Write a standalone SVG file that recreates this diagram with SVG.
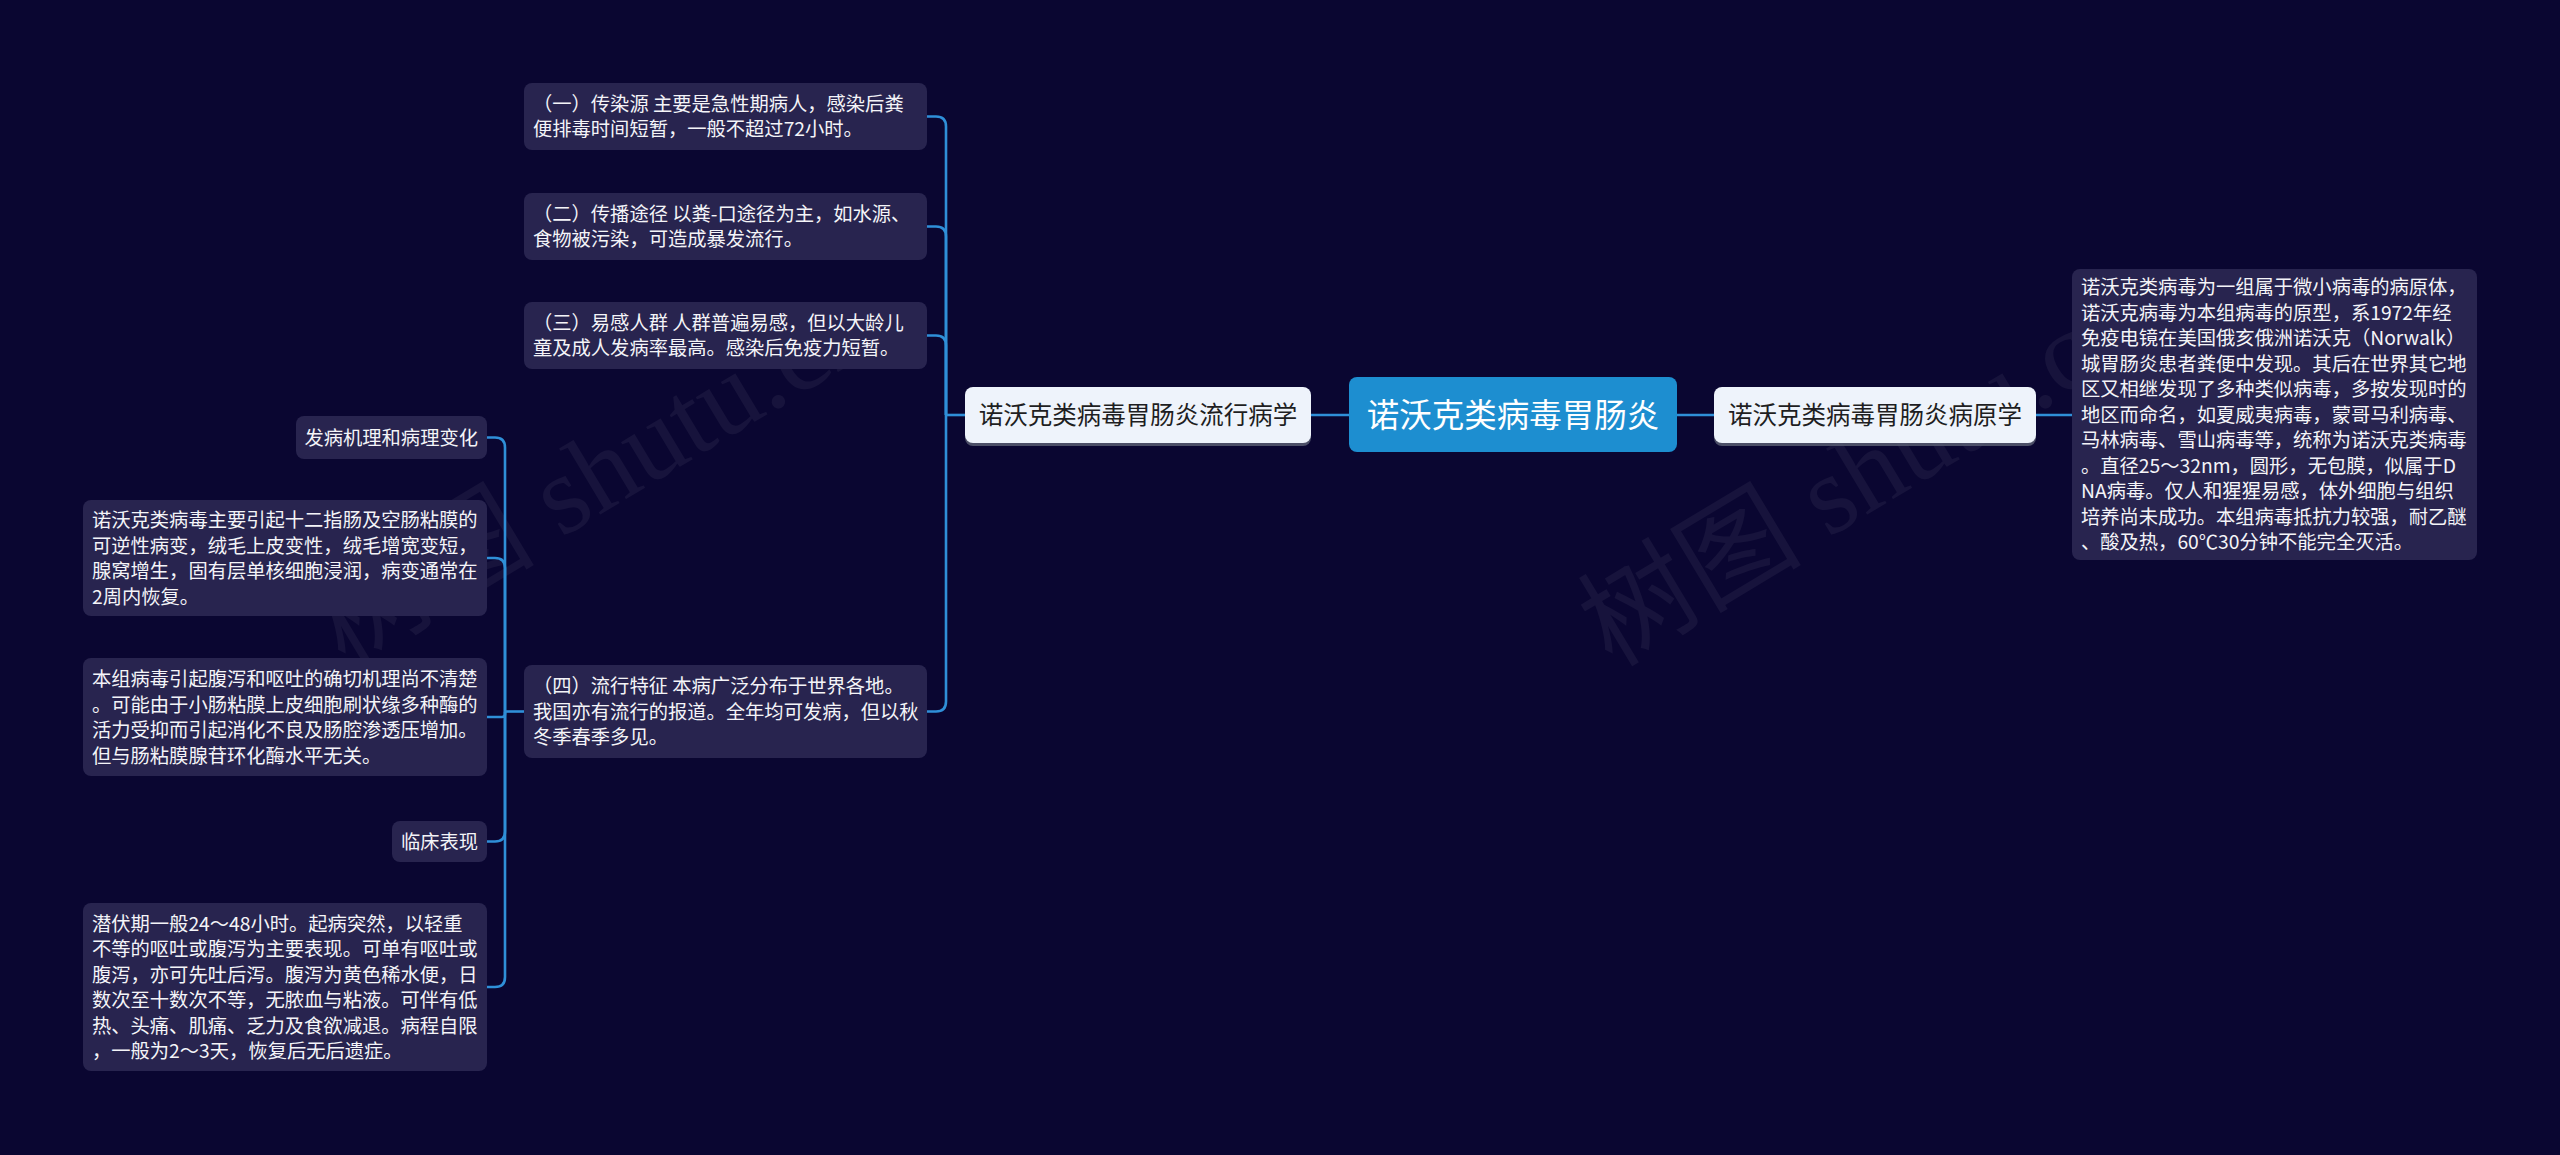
<svg xmlns="http://www.w3.org/2000/svg" width="2560" height="1155" viewBox="0 0 2560 1155">
<defs>
<style>
.leaf{fill:#28244f;}
.main{fill:#eef3fb;}
.shadow{fill:#5d6275;opacity:0.8;}
.center{fill:#1d8ed0;}
.t{font-family:"Noto Sans CJK SC","Noto Sans",sans-serif;font-size:19.3px;fill:#f4f4f8;}
.tm{font-family:"Noto Sans CJK SC","Noto Sans",sans-serif;font-size:24.5px;fill:#1e1e22;text-anchor:middle;}
.tc{font-family:"Noto Sans CJK SC","Noto Sans",sans-serif;font-size:32.5px;fill:#ffffff;text-anchor:middle;}
.conn path{fill:none;stroke:#2f8fd8;stroke-width:2.6;}
.wm{font-family:"Liberation Serif","Noto Sans CJK SC",serif;font-size:112px;fill:#ffffff;opacity:0.05;}
</style>
</defs>
<rect x="0" y="0" width="2560" height="1155" fill="#0a0631"/>
<g id="watermark">
<text class="wm" transform="translate(345,668) rotate(-31)">树图 shutu.cn</text>
<text class="wm" transform="translate(1612,668) rotate(-31)">树图 shutu.cn</text>
</g>
<g id="connectors" class="conn">
<path d="M1311,415 H1349"/>
<path d="M1677,415 H1714"/>
<path d="M2036,415 H2072"/>
<path d="M965,415 H946"/>
<path d="M946,415 V126.5 Q946,116.5 936,116.5 H927"/>
<path d="M946,415 V236.5 Q946,226.5 936,226.5 H927"/>
<path d="M946,415 V345.5 Q946,335.5 936,335.5 H927"/>
<path d="M946,415 V701.5 Q946,711.5 936,711.5 H927"/>
<path d="M524,711.5 H505"/>
<path d="M505,711.5 V447.5 Q505,437.5 495,437.5 H487"/>
<path d="M505,711.5 V568 Q505,558 495,558 H487"/>
<path d="M505,711.5 V714 Q505,717 502,717 H487"/>
<path d="M505,711.5 V831.5 Q505,841.5 495,841.5 H487"/>
<path d="M505,711.5 V977 Q505,987 495,987 H487"/>
</g>
<g id="node-center">
<rect class="center" x="1349" y="377" width="328" height="75" rx="8"/>
<text class="tc" x="1513" y="427">诺沃克类病毒胃肠炎</text>
</g>
<g id="node-epidemiology">
<rect class="shadow" x="965" y="390" width="346" height="56" rx="8"/>
<rect class="main" x="965" y="387" width="346" height="56" rx="8"/>
<text class="tm" x="1138" y="424">诺沃克类病毒胃肠炎流行病学</text>
</g>
<g id="node-etiology">
<rect class="shadow" x="1714" y="390" width="322" height="56" rx="8"/>
<rect class="main" x="1714" y="387" width="322" height="56" rx="8"/>
<text class="tm" x="1875" y="424">诺沃克类病毒胃肠炎病原学</text>
</g>
<g id="node-etiology-text">
<rect class="leaf" x="2072" y="269" width="405" height="291" rx="8"/>
<text class="t" x="2081" y="294">诺沃克类病毒为一组属于微小病毒的病原体，</text>
<text class="t" x="2081" y="319.5">诺沃克病毒为本组病毒的原型，系1972年经</text>
<text class="t" x="2081" y="345">免疫电镜在美国俄亥俄洲诺沃克（Norwalk）</text>
<text class="t" x="2081" y="370.5">城胃肠炎患者粪便中发现。其后在世界其它地</text>
<text class="t" x="2081" y="396">区又相继发现了多种类似病毒，多按发现时的</text>
<text class="t" x="2081" y="421.5">地区而命名，如夏威夷病毒，蒙哥马利病毒、</text>
<text class="t" x="2081" y="447">马林病毒、雪山病毒等，统称为诺沃克类病毒</text>
<text class="t" x="2081" y="472.5">。直径25～32nm，圆形，无包膜，似属于D</text>
<text class="t" x="2081" y="498">NA病毒。仅人和猩猩易感，体外细胞与组织</text>
<text class="t" x="2081" y="523.5">培养尚未成功。本组病毒抵抗力较强，耐乙醚</text>
<text class="t" x="2081" y="549">、酸及热，60℃30分钟不能完全灭活。</text>
</g>
<g id="node-source">
<rect class="leaf" x="524" y="83" width="403" height="67" rx="8"/>
<text class="t" x="533" y="110.5">（一）传染源 主要是急性期病人，感染后粪</text>
<text class="t" x="533" y="136">便排毒时间短暂，一般不超过72小时。</text>
</g>
<g id="node-route">
<rect class="leaf" x="524" y="193" width="403" height="67" rx="8"/>
<text class="t" x="533" y="220.5">（二）传播途径 以粪-口途径为主，如水源、</text>
<text class="t" x="533" y="246">食物被污染，可造成暴发流行。</text>
</g>
<g id="node-susceptible">
<rect class="leaf" x="524" y="302" width="403" height="67" rx="8"/>
<text class="t" x="533" y="329.5">（三）易感人群 人群普遍易感，但以大龄儿</text>
<text class="t" x="533" y="355">童及成人发病率最高。感染后免疫力短暂。</text>
</g>
<g id="node-features">
<rect class="leaf" x="524" y="665" width="403" height="93" rx="8"/>
<text class="t" x="533" y="693">（四）流行特征 本病广泛分布于世界各地。</text>
<text class="t" x="533" y="718.5">我国亦有流行的报道。全年均可发病，但以秋</text>
<text class="t" x="533" y="744">冬季春季多见。</text>
</g>
<g id="node-pathogenesis">
<rect class="leaf" x="296" y="416" width="191" height="43" rx="8"/>
<text class="t" x="478" y="444.5" text-anchor="end">发病机理和病理变化</text>
</g>
<g id="node-pathology-text">
<rect class="leaf" x="83" y="500" width="404" height="116" rx="8"/>
<text class="t" x="92" y="527">诺沃克类病毒主要引起十二指肠及空肠粘膜的</text>
<text class="t" x="92" y="552.5">可逆性病变，绒毛上皮变性，绒毛增宽变短，</text>
<text class="t" x="92" y="578">腺窝增生，固有层单核细胞浸润，病变通常在</text>
<text class="t" x="92" y="603.5">2周内恢复。</text>
</g>
<g id="node-mechanism-text">
<rect class="leaf" x="83" y="658" width="404" height="118" rx="8"/>
<text class="t" x="92" y="686">本组病毒引起腹泻和呕吐的确切机理尚不清楚</text>
<text class="t" x="92" y="711.5">。可能由于小肠粘膜上皮细胞刷状缘多种酶的</text>
<text class="t" x="92" y="737">活力受抑而引起消化不良及肠腔渗透压增加。</text>
<text class="t" x="92" y="762.5">但与肠粘膜腺苷环化酶水平无关。</text>
</g>
<g id="node-clinical">
<rect class="leaf" x="392" y="821" width="95" height="41" rx="8"/>
<text class="t" x="478" y="848.5" text-anchor="end">临床表现</text>
</g>
<g id="node-clinical-text">
<rect class="leaf" x="83" y="903" width="404" height="168" rx="8"/>
<text class="t" x="92" y="930.5">潜伏期一般24～48小时。起病突然，以轻重</text>
<text class="t" x="92" y="956">不等的呕吐或腹泻为主要表现。可单有呕吐或</text>
<text class="t" x="92" y="981.5">腹泻，亦可先吐后泻。腹泻为黄色稀水便，日</text>
<text class="t" x="92" y="1007">数次至十数次不等，无脓血与粘液。可伴有低</text>
<text class="t" x="92" y="1032.5">热、头痛、肌痛、乏力及食欲减退。病程自限</text>
<text class="t" x="92" y="1058">，一般为2～3天，恢复后无后遗症。</text>
</g>
</svg>
